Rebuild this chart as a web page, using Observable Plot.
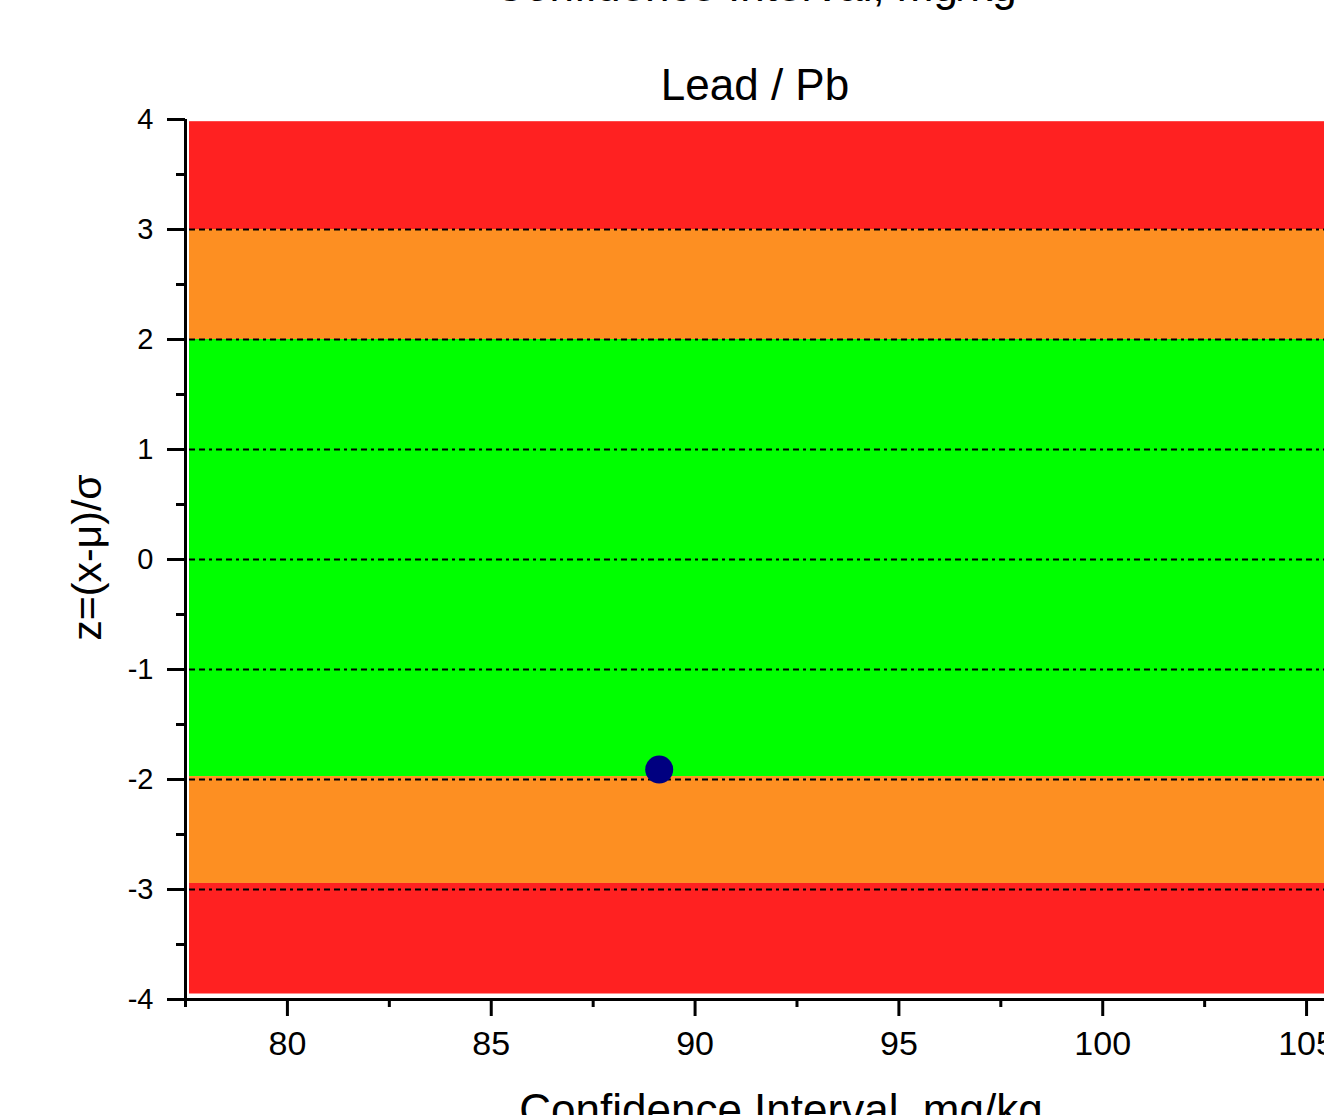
<!DOCTYPE html>
<html><head><meta charset="utf-8">
<script src="https://cdn.jsdelivr.net/npm/d3@7"></script>
<script src="https://cdn.jsdelivr.net/npm/@observablehq/plot@0.6"></script>
<style>
body{margin:0;background:#fff;font-family:"Liberation Sans",Arial,sans-serif;}
#wrap{position:relative;width:1324px;height:1115px;overflow:hidden;background:#fff;}
.t{position:absolute;text-align:center;font-size:44px;line-height:1;color:#000;white-space:nowrap;}
#title{left:185px;width:1140px;top:-36px;}
#sub{left:185px;width:1140px;top:63px;}
#xlab{left:181px;width:1200px;top:1088px;}
#ylab{left:-113px;width:400px;top:537px;font-size:41px;transform:rotate(-90deg);transform-origin:200px 20.5px;}
#chart{position:absolute;left:0;top:0;}
</style></head>
<body>
<div id="wrap">
<div id="chart"></div>
<div id="title" class="t"></div>
<div id="sub" class="t"></div>
<div id="xlab" class="t"></div>
<div id="ylab" class="t"></div>
</div>
<script>
const title = "Confidence Interval, mg/kg";
const subtitle = "Lead / Pb";
const xLabel = "Confidence Interval, mg/kg";
const yLabel = "z=(x-\u03bc)/\u03c3";
const xDomain = [77.5, 105.44];
const yDomain = [-4, 4];
const xMajorTicks = [80, 85, 90, 95, 100, 105];
const xMinorTicks = [77.5, 82.5, 87.5, 92.5, 97.5, 102.5];
const yMajorTicks = [-4, -3, -2, -1, 0, 1, 2, 3, 4];
const yMinorTicks = [-3.5, -2.5, -1.5, -0.5, 0.5, 1.5, 2.5, 3.5];
const bandLow  = [3, 2, -1.973, -2.945, -3.95];
const bandHigh = [3.98, 3, 2, -1.973, -2.945];
const bandColor = ["#ff2121", "#fd8f22", "#00ff00", "#fd8f22", "#ff2121"];
const gridLines = [-3, -2, -1, 0, 1, 2, 3];
const pointX = [89.12];
const pointZ = [-1.91];

document.getElementById("title").textContent = title;
document.getElementById("sub").textContent = subtitle;
document.getElementById("xlab").textContent = xLabel;
document.getElementById("ylab").textContent = yLabel;

const bands = bandLow.map((lo, i) => ({lo, hi: bandHigh[i], color: bandColor[i]}));
const points = pointX.map((x, i) => ({x, z: pointZ[i]}));

const chart = Plot.plot({
  width: 1324,
  height: 1115,
  marginLeft: 185,
  marginRight: 0,
  marginTop: 119,
  marginBottom: 116,
  style: {fontFamily: '"Liberation Sans", Arial, sans-serif', background: "transparent", color: "#000"},
  x: {domain: xDomain, label: null},
  y: {domain: yDomain, label: null},
  marks: [
    Plot.rect(bands, {y1: "lo", y2: "hi", fill: "color", insetLeft: 4}),
    Plot.ruleY(gridLines, {stroke: "#000", strokeWidth: 2, strokeDasharray: "6,4,6,4,3,4", insetLeft: 4}),
    Plot.dot(points, {x: "x", y: "z", r: 14, fill: "#000080", stroke: "none"}),
    Plot.ruleX([xDomain[0]], {stroke: "#000", strokeWidth: 3}),
    Plot.ruleY([yDomain[0]], {stroke: "#000", strokeWidth: 3}),
    Plot.axisX({ticks: xMajorTicks, tickSize: 17, tickPadding: 14, tickFormat: d => String(d), fontSize: 34, strokeWidth: 3, label: null}),
    Plot.axisX({ticks: xMinorTicks, tickSize: 8, strokeWidth: 3, text: null, label: null}),
    Plot.axisY({ticks: yMajorTicks, tickSize: 18, tickPadding: 14, tickFormat: d => String(d), fontSize: 29, strokeWidth: 3, label: null}),
    Plot.axisY({ticks: yMinorTicks, tickSize: 9, strokeWidth: 3, text: null, label: null})
  ]
});
document.getElementById("chart").appendChild(chart);
</script>
</body></html>
